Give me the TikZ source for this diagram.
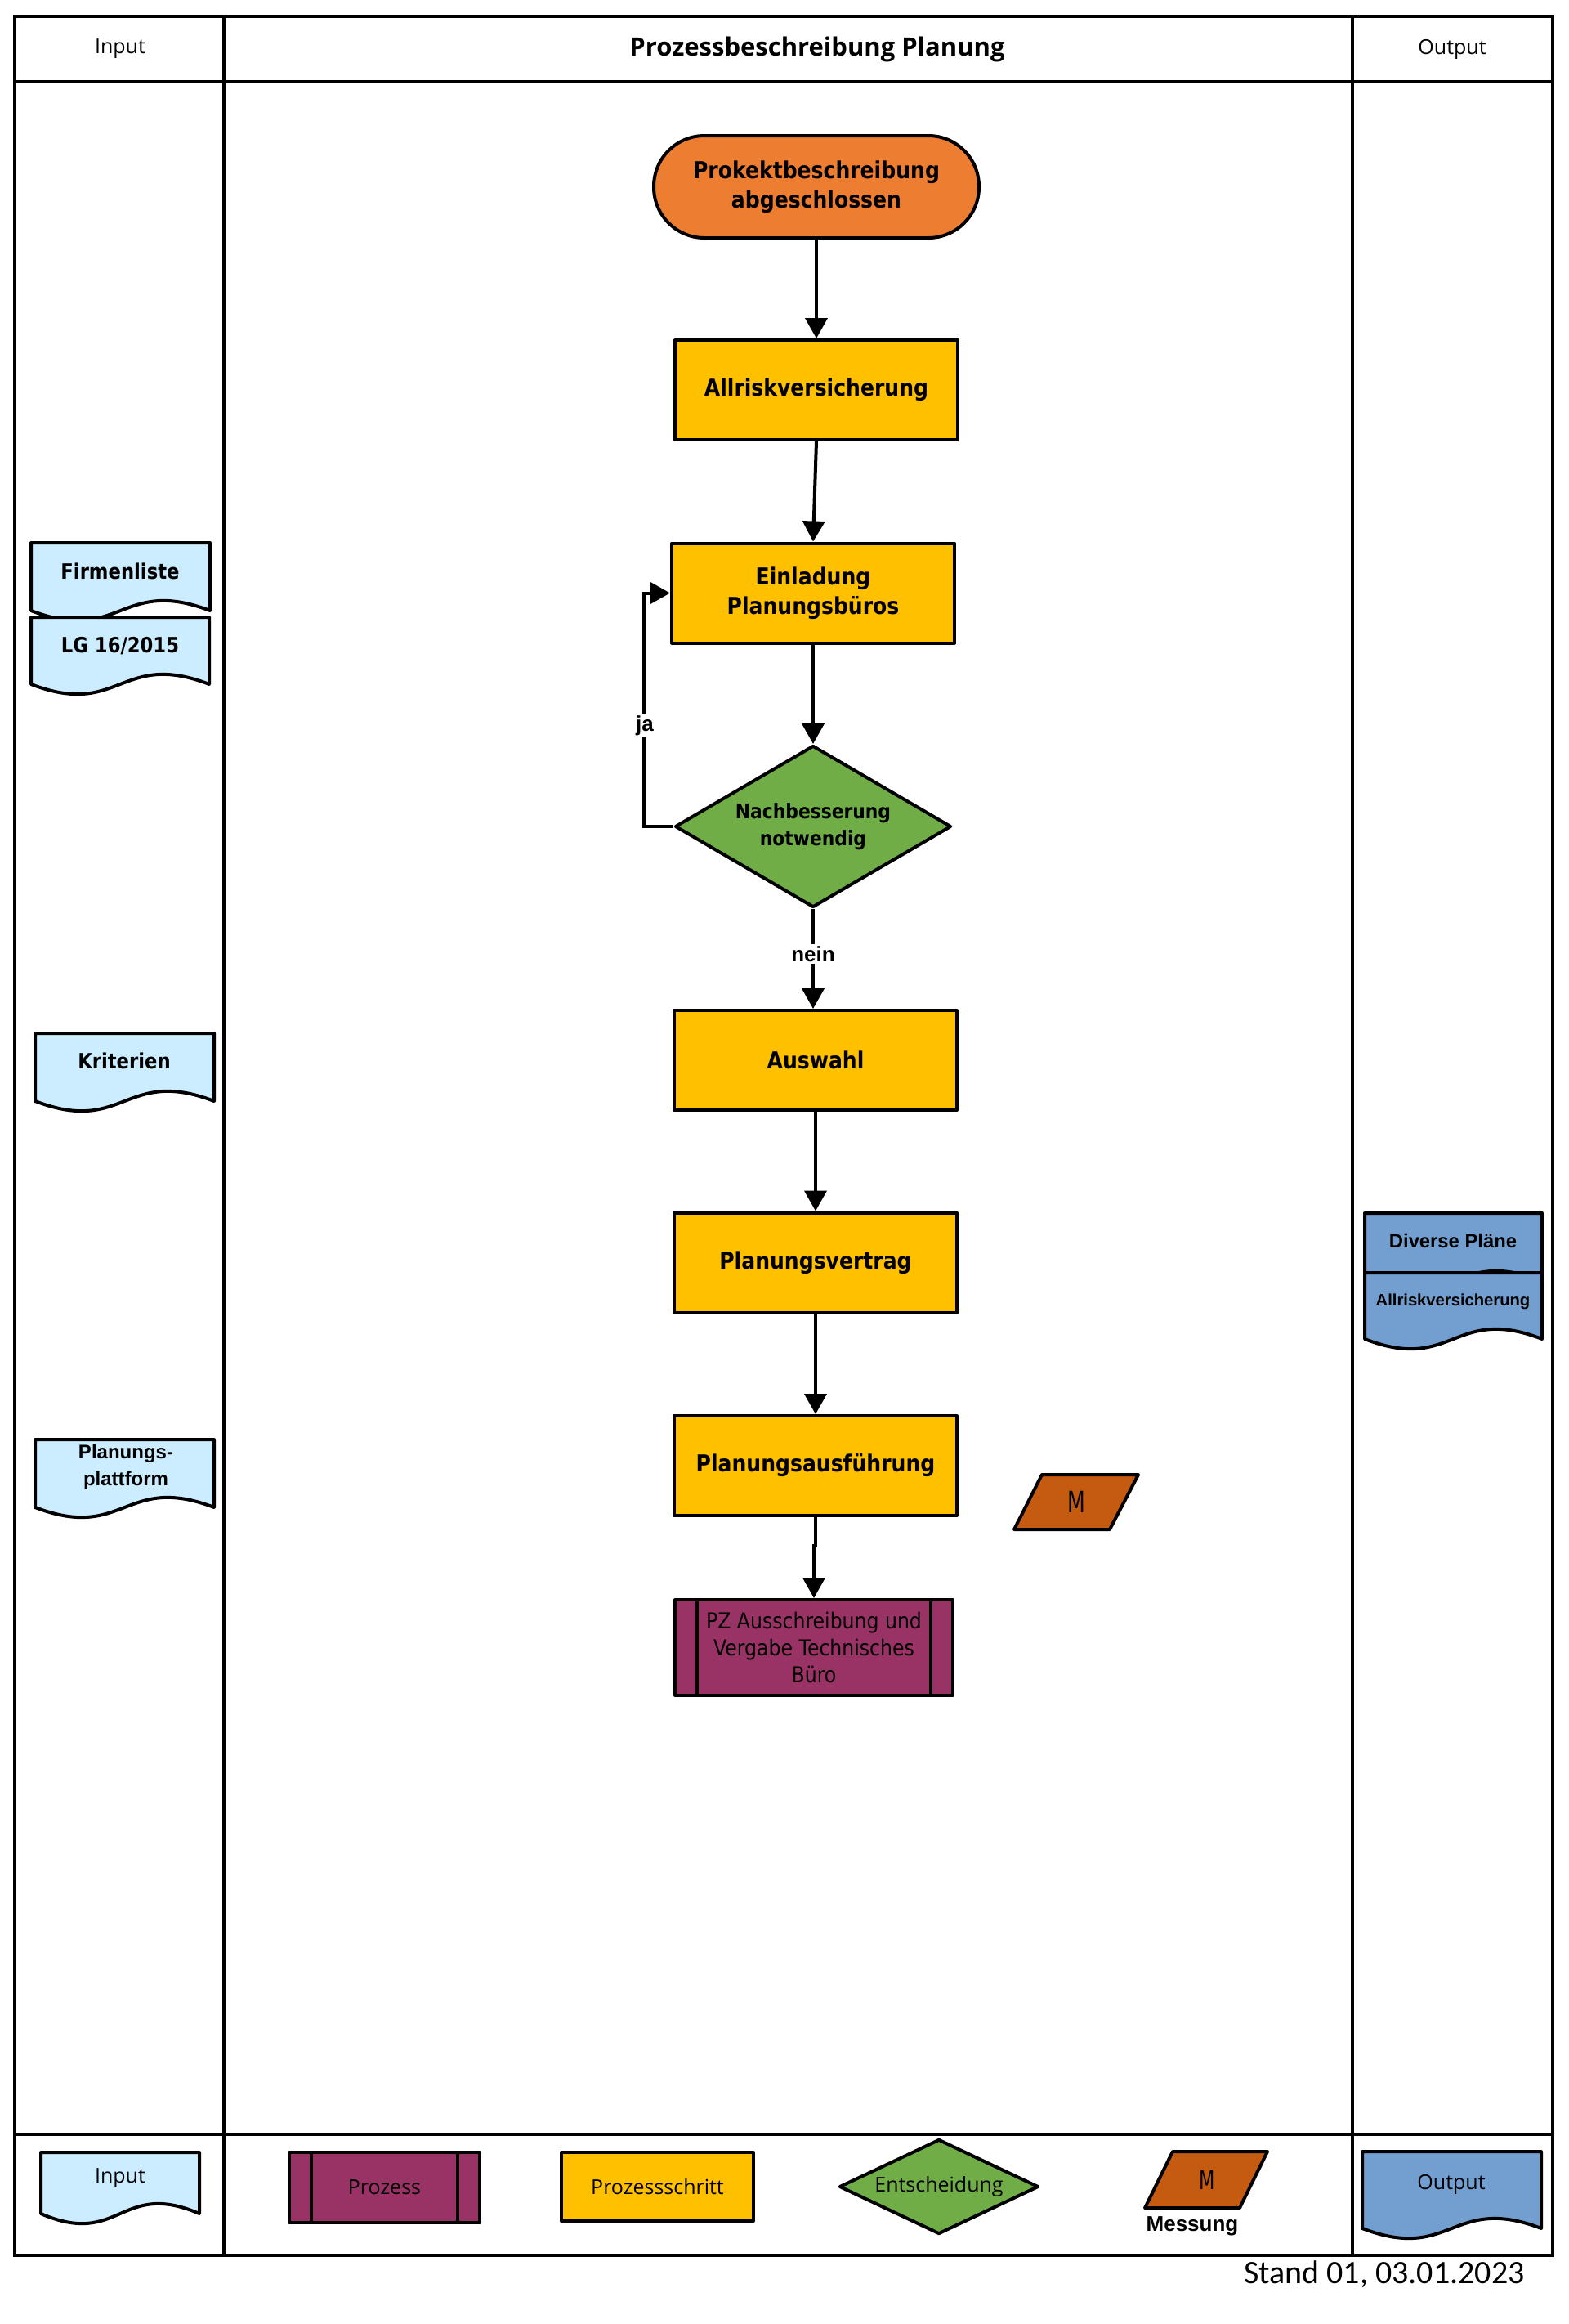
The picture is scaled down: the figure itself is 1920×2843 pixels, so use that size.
\documentclass[tikz,border=0pt]{standalone}
\usepackage{fontspec}
\usetikzlibrary{arrows.meta,shapes.geometric,calc}
\setmainfont{DejaVu Sans}[FakeStretch=0.88]
\newfontfamily\tah{DejaVu Sans}[FakeStretch=0.88]
\newfontfamily\mnar{DejaVu Sans}[FakeStretch=0.7]
\newfontfamily\osans{Open Sans}
\newfontfamily\arial{Liberation Sans}
\newfontfamily\calib{Carlito}
\definecolor{cOrange}{HTML}{ED7D31}
\definecolor{cYellow}{HTML}{FFC000}
\definecolor{cGreen}{HTML}{70AD47}
\definecolor{cPurple}{HTML}{993366}
\definecolor{cBrown}{HTML}{C55A11}
\definecolor{cIn}{HTML}{CCECFF}
\definecolor{cOut}{HTML}{729FCF}
\tikzset{
  frame/.style={line width=2pt},
  shp/.style={draw=black, line width=2pt, line join=round},
  boxfont/.style={font=\tah\bfseries\fontsize{14.25}{18}\selectfont},
  procbox/.style={shp, boxfont, fill=cYellow, minimum width=173pt, minimum height=61pt, inner sep=2pt, align=center},
  termbox/.style={shp, boxfont, fill=cOrange, rounded corners=31pt, minimum width=199pt, minimum height=62.5pt, inner sep=2pt, align=center},
  subproc/.style={shp, fill=cPurple, minimum width=170pt, minimum height=58.5pt, inner sep=1pt, align=center, font=\tah\fontsize{13.4}{16.5}\selectfont},
  decbox/.style={shp, diamond, fill=cGreen, aspect=1.7, minimum width=169pt, minimum height=99pt, inner sep=1pt, align=center, font=\tah\bfseries\fontsize{12.4}{16.5}\selectfont},
  arr/.style={line width=2pt, -{Triangle[length=12.5pt,width=13.5pt]}},
  lbl/.style={fill=white, inner sep=1pt, font=\arial\bfseries\fontsize{13}{15}\selectfont},
  doctxt/.style={inner sep=1pt, align=center, font=\tah\bfseries\fontsize{12.9}{16}\selectfont},
  ardoctxt/.style={inner sep=1pt, align=center, font=\arial\bfseries\fontsize{12}{16.5}\selectfont},
  legtxt/.style={inner sep=1pt, font=\osans\fontsize{12.5}{15}\selectfont},
  mtxt/.style={inner sep=0pt, font=\mnar\fontsize{18}{20}\selectfont},
}
\newcommand\docshape[5]{%
  \draw[shp, fill=#5] (#1,#2) -- (#3,#2) -- (#3,#4)
    .. controls ({(#1+#3)/2},{#4-42}) and ({(#1+#3)/2},{#4+42}) .. (#1,#4) -- cycle;}
\begin{document}
\begin{tikzpicture}[x=0.5pt,y=-0.5pt]
\useasboundingbox (0,0) rectangle (1920,2843);
\fill[white] (0,0) rectangle (1920,2843);
% frame
\draw[frame] (18,20) rectangle (1900,2759);
\draw[frame] (18,100) -- (1900,100);
\draw[frame] (18,2611) -- (1900,2611);
\draw[frame] (274,20) -- (274,2759);
\draw[frame] (1655,20) -- (1655,2759);
% header
\node[legtxt] (hin) at (147,60) {Input};
\node[inner sep=1pt, font=\osans\bfseries\fontsize{15.5}{18}\selectfont] (htitle) at (1000,60) {Prozessbeschreibung Planung};
\node[legtxt] (hout) at (1777,60) {Output};
% process
\node[termbox] (start) at (999,228.5) {Prokektbeschreibung\\abgeschlossen};
\node[procbox] (allr) at (999,477) {Allriskversicherung};
\node[procbox] (einl) at (995,725.5) {Einladung\\Planungsbüros};
\node[decbox] (dec) at (995,1011) {Nachbesserung\\notwendig};
\node[procbox] (ausw) at (998,1297) {Auswahl};
\node[procbox] (vert) at (998,1544.5) {Planungsvertrag};
\node[procbox] (ausf) at (998,1793) {Planungsausführung};
\node[subproc] (pz) at (996,2015.5) {PZ Ausschreibung und\\Vergabe Technisches\\Büro};
\draw[shp] ($(pz.north west)+(29,0)$) -- ($(pz.south west)+(29,0)$);
\draw[shp] ($(pz.north east)+(-29,0)$) -- ($(pz.south east)+(-29,0)$);
% measurement
\draw[shp, fill=cBrown] (1275,1804) -- (1393,1804) -- (1358,1871) -- (1241,1871) -- cycle;
\node[mtxt] (m1) at (1317,1837) {M};
% connectors
\draw[arr] (start.south) -- (allr.north);
\draw[arr] (allr.south) -- (einl.north);
\draw[arr] (einl.south) -- (dec.north);
\draw[arr] (dec.west) -| ($(einl.west)+(-32,0)$) -- (einl.west);
\node[lbl] (ja) at (789,888) {ja};
\draw[arr] (dec.south) -- (dec.south |- ausw.north);
\node[lbl] (nein) at (995,1167) {nein};
\draw[arr] (ausw.south) -- (vert.north);
\draw[arr] (vert.south) -- (ausf.north);
\draw[arr] (ausf.south) -- ++(0,35) -- ($(pz.north)+(0,-64)$) -- (pz.north);
% inputs
\docshape{38}{664}{257}{747}{cIn}
\node[doctxt] (firm) at (147,699) {Firmenliste};
\docshape{38}{755}{256}{837}{cIn}
\node[doctxt] (lg) at (147,790) {LG 16/2015};
\docshape{43}{1264}{262}{1347}{cIn}
\node[doctxt] (krit) at (152,1298) {Kriterien};
\docshape{43}{1761}{262}{1844}{cIn}
\node[ardoctxt] (plat) at (154,1795) {Planungs-\\plattform};
% outputs
\docshape{1670}{1484}{1887}{1567}{cOut}
\node[inner sep=1pt, font=\arial\bfseries\fontsize{11.9}{14}\selectfont] (plaene) at (1778,1518) {Diverse Pläne};
\docshape{1670}{1557}{1887}{1638}{cOut}
\node[inner sep=1pt, font=\arial\bfseries\fontsize{10.1}{12}\selectfont] (outallr) at (1778,1592) {Allriskversicherung};
% legend
\docshape{50}{2633}{244}{2708}{cIn}
\node[legtxt] (legin) at (147,2665) {Input};
\node[shp, fill=cPurple, minimum width=116.5pt, minimum height=43pt, inner sep=1pt, font=\osans\fontsize{12.5}{15}\selectfont] (legproz) at (470.5,2676) {Prozess};
\draw[shp] ($(legproz.north west)+(29,0)$) -- ($(legproz.south west)+(29,0)$);
\draw[shp] ($(legproz.north east)+(-29,0)$) -- ($(legproz.south east)+(-29,0)$);
\node[shp, fill=cYellow, minimum width=117.5pt, minimum height=42pt, inner sep=1pt, font=\osans\fontsize{12.5}{15}\selectfont] (legschritt) at (804.5,2675) {Prozessschritt};
\node[shp, diamond, fill=cGreen, aspect=2.1, minimum width=122pt, minimum height=58pt, inner sep=1pt, font=\osans\fontsize{12.5}{15}\selectfont] (legdec) at (1149,2675) {Entscheidung};
\draw[shp, fill=cBrown] (1435,2632) -- (1551,2632) -- (1517,2701) -- (1401,2701) -- cycle;
\node[inner sep=0pt, font=\mnar\fontsize{16}{18}\selectfont] (m2) at (1477,2667) {M};
\node[inner sep=1pt, font=\arial\bfseries\fontsize{13}{15}\selectfont] (messung) at (1459,2723) {Messung};
\docshape{1667}{2632}{1886}{2726}{cOut}
\node[legtxt] (legout) at (1776,2672) {Output};
% footer
\node[inner sep=0pt, anchor=east, font=\calib\fontsize{20}{24}\selectfont] (stand) at (1866,2782) {Stand 01, 03.01.2023};
\end{tikzpicture}
\end{document}
